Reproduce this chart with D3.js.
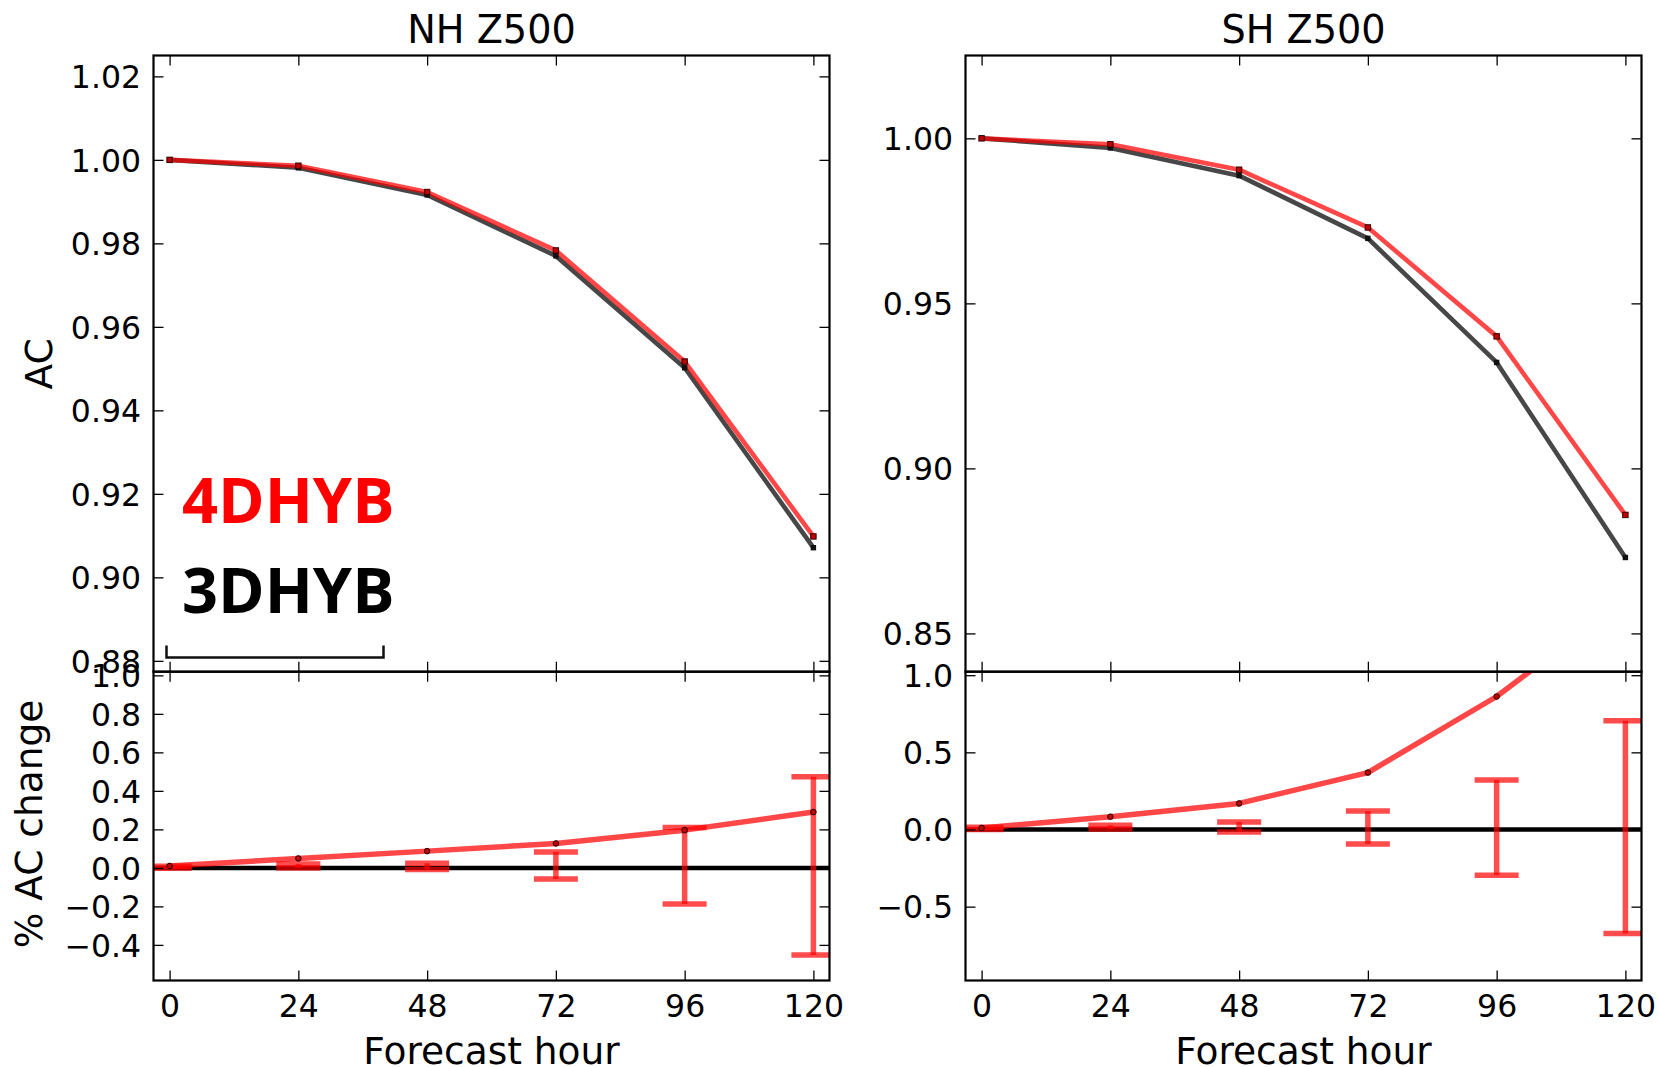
<!DOCTYPE html>
<html>
<head>
<meta charset="utf-8">
<script src="https://cdn.jsdelivr.net/npm/d3@7"></script>
<style>
  html, body { margin: 0; padding: 0; background: #fff; }
  svg { display: block; }
</style>
</head>
<body>
<svg id="chart" width="1659" height="1067"></svg>
<script>
// ---------------- data ----------------
const hours = [0, 24, 48, 72, 96, 120];
const xTicks = [0, 24, 48, 72, 96, 120];

const nhAC4D = [1.0000, 0.9986, 0.9923, 0.9783, 0.9517, 0.9098];
const nhAC3D = [1.0000, 0.9981, 0.9916, 0.9770, 0.9502, 0.9071];
const shAC4D = [1.0000, 0.9982, 0.9905, 0.9730, 0.9400, 0.8859];
const shAC3D = [1.0000, 0.9971, 0.9887, 0.9697, 0.9321, 0.8730];

const nhChange = [0.010, 0.049, 0.087, 0.127, 0.196, 0.290];
const shChange = [0.010, 0.083, 0.169, 0.369, 0.862, 1.490];

const nhErrLo = [-0.002, 0.000, -0.008, -0.058, -0.188, -0.453];
const nhErrHi = [0.008, 0.020, 0.0245, 0.082, 0.210, 0.473];
const shErrLo = [0.000, 0.004, -0.016, -0.094, -0.297, -0.674];
const shErrHi = [0.015, 0.028, 0.048, 0.120, 0.321, 0.705];

const nhTopTicks = [0.88, 0.90, 0.92, 0.94, 0.96, 0.98, 1.00, 1.02];
const shTopTicks = [0.85, 0.90, 0.95, 1.00];
const nhBotTicks = [-0.4, -0.2, 0.0, 0.2, 0.4, 0.6, 0.8, 1.0];
const shBotTicks = [-0.5, 0.0, 0.5, 1.0];

const titles = ["NH Z500", "SH Z500"];
const legendNames = ["4DHYB", "3DHYB"];

// ---------------- layout ----------------
const svg = d3.select("#chart");
svg.append("rect").attr("width", 1659).attr("height", 1067).attr("fill", "#fff");

const TICK_FONT = 31.5, LABEL_FONT = 37.5, TITLE_FONT = 38.2;
const FONT = "DejaVu Sans";
const RED = "#ff0000";

const cols = [
  { x0: 153.5, x1: 829.5, topDom: [0.8774, 1.025], botDom: [-0.585, 1.019],
    topTicks: nhTopTicks, botTicks: nhBotTicks, topFmt: d3.format(".2f"), botFmt: d3.format(".1f"),
    ac4: nhAC4D, ac3: nhAC3D, chg: nhChange, lo: nhErrLo, hi: nhErrHi, title: titles[0] },
  { x0: 965.5, x1: 1641.5, topDom: [0.8384, 1.0251], botDom: [-0.9786, 1.0227],
    topTicks: shTopTicks, botTicks: shBotTicks, topFmt: d3.format(".2f"), botFmt: d3.format(".1f"),
    ac4: shAC4D, ac3: shAC3D, chg: shChange, lo: shErrLo, hi: shErrHi, title: titles[1] }
];
const topY = [55.5, 671.7];
const botY = [671.7, 980.5];

function styleAxis(g) {
  g.select(".domain").remove();
  g.selectAll(".tick line").attr("stroke", "#000").attr("stroke-width", 1.3);
  g.selectAll(".tick text").attr("fill", "#000");
  g.attr("font-family", FONT).attr("font-size", TICK_FONT);
}

function drawPanel(ci, c, yr, dom, ticks, fmt, isBottom) {
  const x = d3.scaleLinear().domain([-3, 123]).range([c.x0, c.x1]);
  const y = d3.scaleLinear().domain(dom).range([yr[1], yr[0]]);
  const clipId = "clip" + ci + (isBottom ? "b" : "t");
  svg.append("clipPath").attr("id", clipId)
    .append("rect").attr("x", c.x0).attr("y", yr[0])
    .attr("width", c.x1 - c.x0).attr("height", yr[1] - yr[0]);
  const g = svg.append("g").attr("clip-path", `url(#${clipId})`);

  if (!isBottom) {
    const line = d3.line().x((d, i) => x(hours[i])).y(d => y(d));
    g.append("path").datum(c.ac3).attr("d", line)
      .attr("fill", "none").attr("stroke", "#000").attr("stroke-opacity", 0.72)
      .attr("stroke-width", 4.6).attr("stroke-linejoin", "round");
    g.append("path").datum(c.ac4).attr("d", line)
      .attr("fill", "none").attr("stroke", RED).attr("stroke-opacity", 0.72)
      .attr("stroke-width", 4.6).attr("stroke-linejoin", "round");
    g.selectAll(".m3").data(c.ac3).join("rect")
      .attr("x", (d, i) => x(hours[i]) - 2.7).attr("y", d => y(d) - 2.7)
      .attr("width", 5.4).attr("height", 5.4).attr("fill", "#111");
    g.selectAll(".m4").data(c.ac4).join("rect")
      .attr("x", (d, i) => x(hours[i]) - 2.7).attr("y", d => y(d) - 2.7)
      .attr("width", 5.4).attr("height", 5.4).attr("fill", "#c00000")
      .attr("stroke", "#300").attr("stroke-width", 1);
  } else {
    // zero line
    g.append("line").attr("x1", c.x0).attr("x2", c.x1)
      .attr("y1", y(0)).attr("y2", y(0))
      .attr("stroke", "#000").attr("stroke-width", 4.5);
    // error bars
    const cap = 22;
    hours.forEach((h, i) => {
      const eg = g.append("g");
      eg.append("line").attr("x1", x(h)).attr("x2", x(h))
        .attr("y1", y(c.lo[i])).attr("y2", y(c.hi[i]))
        .attr("stroke", RED).attr("stroke-opacity", 0.7).attr("stroke-width", 5.5);
      [c.lo[i], c.hi[i]].forEach(v => {
        eg.append("line").attr("x1", x(h) - cap).attr("x2", x(h) + cap)
          .attr("y1", y(v)).attr("y2", y(v))
          .attr("stroke", RED).attr("stroke-opacity", 0.7).attr("stroke-width", 5.5);
      });
    });
    const line = d3.line().x((d, i) => x(hours[i])).y(d => y(d));
    g.append("path").datum(c.chg).attr("d", line)
      .attr("fill", "none").attr("stroke", RED).attr("stroke-opacity", 0.72)
      .attr("stroke-width", 5.5).attr("stroke-linejoin", "round");
    g.selectAll(".mc").data(c.chg).join("circle")
      .attr("cx", (d, i) => x(hours[i])).attr("cy", d => y(d)).attr("r", 2.8)
      .attr("fill", "#c00000").attr("stroke", "#200").attr("stroke-width", 1);
  }

  // frame
  svg.append("rect").attr("x", c.x0).attr("y", yr[0])
    .attr("width", c.x1 - c.x0).attr("height", yr[1] - yr[0])
    .attr("fill", "none").attr("stroke", "#000").attr("stroke-width", 2.2);

  // axes (ticks inward on all sides)
  svg.append("g").attr("transform", `translate(${c.x0},0)`)
    .call(d3.axisLeft(y).tickValues(ticks).tickFormat(fmt).tickSizeInner(-10).tickSizeOuter(0).tickPadding(12.5))
    .call(styleAxis)
    .call(gg => gg.selectAll(".tick text").attr("dy", "0.36em"));
  svg.append("g").attr("transform", `translate(${c.x1},0)`)
    .call(d3.axisRight(y).tickValues(ticks).tickFormat("").tickSizeInner(-10).tickSizeOuter(0))
    .call(styleAxis);
  svg.append("g").attr("transform", `translate(0,${yr[0]})`)
    .call(d3.axisTop(x).tickValues(xTicks).tickFormat("").tickSizeInner(-10).tickSizeOuter(0))
    .call(styleAxis);
  svg.append("g").attr("transform", `translate(0,${yr[1]})`)
    .call(d3.axisBottom(x).tickValues(xTicks).tickFormat(isBottom ? d3.format("d") : "")
      .tickSizeInner(-10).tickSizeOuter(0).tickPadding(14))
    .call(styleAxis);
  return { x, y };
}

cols.forEach((c, ci) => {
  drawPanel(ci, c, topY, c.topDom, c.topTicks, c.topFmt, false);
  drawPanel(ci, c, botY, c.botDom, c.botTicks, c.botFmt, true);

  svg.append("text").attr("x", (c.x0 + c.x1) / 2).attr("y", 42.5)
    .attr("text-anchor", "middle").attr("font-family", FONT).attr("font-size", TITLE_FONT)
    .text(c.title);
  svg.append("text").attr("x", (c.x0 + c.x1) / 2).attr("y", 1064)
    .attr("text-anchor", "middle").attr("font-family", FONT).attr("font-size", LABEL_FONT)
    .text("Forecast hour");
});

// y labels
svg.append("text").attr("transform", "translate(52,364) rotate(-90)")
  .attr("text-anchor", "middle").attr("font-family", FONT).attr("font-size", LABEL_FONT)
  .text("AC");
svg.append("text").attr("transform", "translate(41.5,824) rotate(-90)")
  .attr("text-anchor", "middle").attr("font-family", FONT).attr("font-size", LABEL_FONT)
  .text("% AC change");

// legend text
svg.append("text").attr("x", 182).attr("y", 523)
  .attr("font-family", "Open Sans").attr("font-weight", "bold").attr("font-size", 63)
  .attr("fill", RED).text(legendNames[0]);
svg.append("text").attr("x", 182).attr("y", 613)
  .attr("font-family", "Open Sans").attr("font-weight", "bold").attr("font-size", 63)
  .attr("fill", "#000").text(legendNames[1]);

// bracket under legend
svg.append("path")
  .attr("d", "M166.5,645.5V657.5H383.5V645.5")
  .attr("fill", "none").attr("stroke", "#111").attr("stroke-width", 2.5);
</script>
</body>
</html>
